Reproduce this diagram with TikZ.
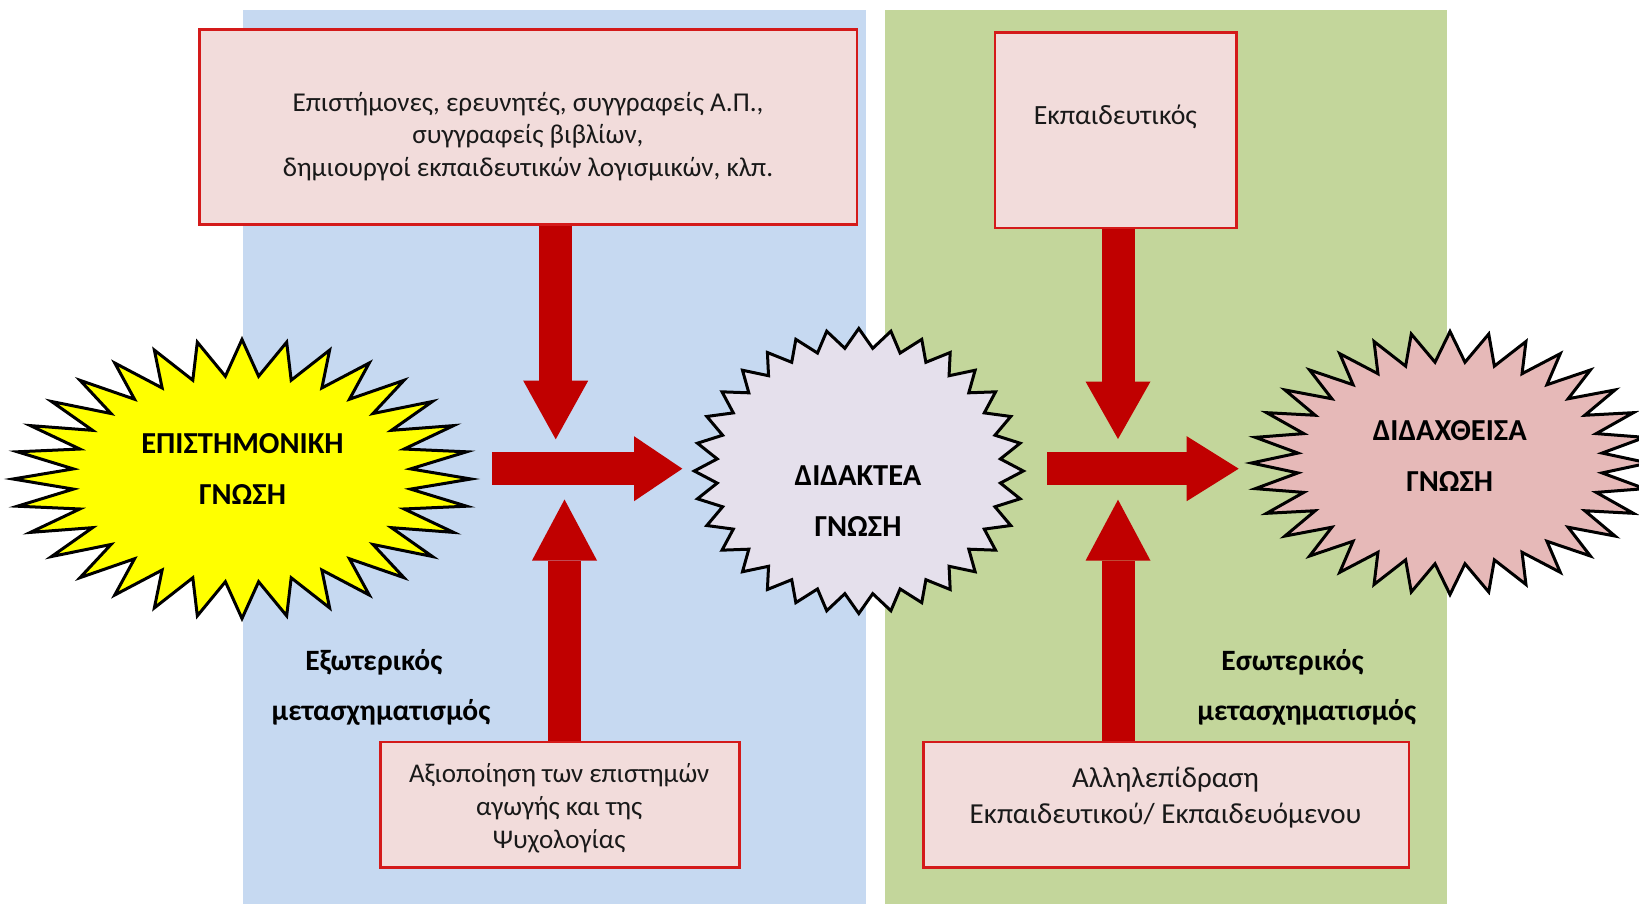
\documentclass[tikz,border=0pt]{standalone}
\usepackage{fontspec}
\setmainfont{Carlito}
\usetikzlibrary{arrows.meta}
\definecolor{panelblue}{HTML}{C6D9F1}
\definecolor{panelgreen}{HTML}{C3D69B}
\definecolor{boxfill}{HTML}{F2DCDB}
\definecolor{boxborder}{HTML}{D41A1A}
\definecolor{arrowred}{HTML}{C00000}
\definecolor{staryellow}{HTML}{FFFF00}
\definecolor{starlilac}{HTML}{E5E0EC}
\definecolor{starpink}{HTML}{E6B9B8}
\newcommand\spikystar[6]{%
  \filldraw[fill=#6,draw=black,line width=3pt,line join=miter,miter limit=20]
    plot[samples at={0,...,63},variable=\k]
    ({#1+#3*(1-(1-#5)*mod(\k,2))*cos(\k*5.625)},{#2+#4*(1-(1-#5)*mod(\k,2))*sin(\k*5.625)}) -- cycle;}
\begin{document}
\begin{tikzpicture}[x=1pt,y=-1pt,
  infobox/.style={draw=boxborder,fill=boxfill,line width=2.5pt,inner sep=0pt},
  btext/.style={font=\fontsize{27.2}{32.4}\selectfont,align=center,inner sep=0pt,text=black!90},
  startext/.style={font=\fontsize{30.5}{50.7}\selectfont\bfseries,align=center,inner sep=0pt},
  lbl/.style={font=\fontsize{29.5}{32}\selectfont\bfseries,anchor=base,inner sep=0pt},
  bigarrow/.style={draw=arrowred,line width=33pt,-{Triangle[length=#1,width=65pt,line width=0pt]}},
  bigarrow/.default=58pt]
\useasboundingbox (0,0) rectangle (1639,904);
\fill[white] (0,0) rectangle (1639,904);
% panels
\fill[panelblue] (242.5,10.5) rectangle (865.5,904);
\fill[panelgreen] (885,10.5) rectangle (1446.5,904);
% boxes
\node[infobox,minimum width=657.4pt,minimum height=195.4pt] (tl) at (528.4,127) {};
\node[infobox,minimum width=241.5pt,minimum height=195.5pt] (tr) at (1115.9,130.2) {};
\node[infobox,minimum width=358.7pt,minimum height=125.4pt] (bl) at (559.9,804.9) {};
\node[infobox,minimum width=485.3pt,minimum height=125.8pt] (br) at (1166.2,804.7) {};
\node[btext] (tltext) at (528,136.3) {Επιστήμονες, ερευνητές, συγγραφείς Α.Π.,\\συγγραφείς βιβλίων,\\δημιουργοί εκπαιδευτικών λογισμικών, κλπ.};
\node[btext,font=\fontsize{27.8}{32}\selectfont] (trtext) at (1115.3,117) {Εκπαιδευτικός};
\node[btext,font=\fontsize{27}{33}\selectfont] (bltext) at (559.2,808.5) {Αξιοποίηση των επιστημών\\αγωγής και της\\Ψυχολογίας};
\node[btext,font=\fontsize{29}{35.5}\selectfont] (brtext) at (1165.5,797.5) {Αλληλεπίδραση\\Εκπαιδευτικού/ Εκπαιδευόμενου};
% stars
\spikystar{242}{479}{229}{139.5}{0.74}{staryellow}
\spikystar{858.8}{471}{164.5}{142.5}{0.865}{starlilac}
\spikystar{1450}{463}{198.5}{131.5}{0.77}{starpink}
\coordinate (starA) at (242,479);
\coordinate (starB) at (858.8,471);
\coordinate (starC) at (1450,463);
\node[startext] (tA) at (242.5,468.7) {ΕΠΙΣΤΗΜΟΝΙΚΗ\\ΓΝΩΣΗ};
\node[startext] (tB) at (858,501) {ΔΙΔΑΚΤΕΑ\\ΓΝΩΣΗ};
\node[startext] (tC) at (1449.7,455.8) {ΔΙΔΑΧΘΕΙΣΑ\\ΓΝΩΣΗ};
% arrows
\coordinate (dA) at (555.7,439.3);
\coordinate (uA) at (564.5,499.5);
\coordinate (rAs) at (492.3,468.7);
\coordinate (rAe) at (682.3,468.7);
\coordinate (dB) at (1118,439);
\coordinate (uB) at (1118,499.7);
\coordinate (rBs) at (1047.4,468.7);
\coordinate (rBe) at (1238.7,468.7);
\draw[bigarrow=58.6pt] (tl.south -| dA) -- (dA);
\draw[bigarrow=61pt] (bl.north -| uA) -- (uA);
\draw[bigarrow=48.3pt] (rAs) -- (rAe);
\draw[bigarrow=57.5pt] (tr.south -| dB) -- (dB);
\draw[bigarrow=61pt] (br.north -| uB) -- (uB);
\draw[bigarrow=52pt] (rBs) -- (rBe);
% labels
\node[lbl] (lA1) at (373.8,670) {Εξωτερικός};
\node[lbl] (lA2) at (381,720.7) {μετασχηματισμός};
\node[lbl] (lB1) at (1292.5,670) {Εσωτερικός};
\node[lbl] (lB2) at (1306.7,720.7) {μετασχηματισμός};
\end{tikzpicture}
\end{document}
